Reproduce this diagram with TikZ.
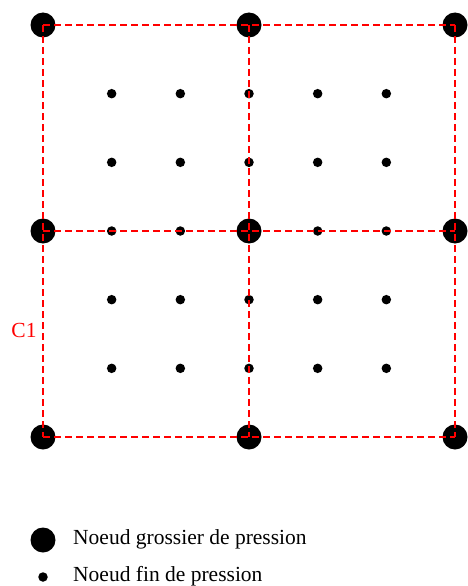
\documentclass[tikz,border=0pt]{standalone}
\usepackage{fontspec}
\setmainfont{Liberation Serif}
\usetikzlibrary{positioning}

\begin{document}
\begin{tikzpicture}[
  x=1pt, y=-1pt,
  coarse/.style={circle, fill=black, inner sep=0pt, minimum size=25pt},
  fine/.style={circle, fill=black, inner sep=0pt, minimum size=9.5pt},
  cellline/.style={color=red, dash pattern=on 7pt off 4pt, line width=1.4pt},
  legend/.style={font=\fontsize{21.5}{24}\selectfont, anchor=base west, inner sep=0pt}
]
\useasboundingbox (0,0) rectangle (467,586);

%% Fine pressure nodes
\foreach \i in {1,...,5}
  \foreach \j in {1,...,5}
    \node[fine] (f-\i-\j) at ({43+206/3*\i},{25+206/3*\j}) {};

%% Coarse pressure nodes
\foreach \i in {0,1,2}
  \foreach \j in {0,1,2}
    \node[coarse] (g-\i-\j) at ({43+206*\i},{25+206*\j}) {};

%% Cell boundaries
\begin{scope}[cellline]
  \draw (g-0-0.center) -- (g-0-2.center);
  \draw (g-1-0.center) -- (g-1-2.center);
  \draw (g-2-0.center) -- (g-2-2.center);
  \draw (g-0-0.center) -- (g-2-0.center);
  \draw (g-0-1.center) -- (g-2-1.center);
  \draw (g-0-2.center) -- (g-2-2.center);
\end{scope}

%% Cell label
\node[legend, anchor=base, text=red] (c1) at (24,337) {C1};

%% Legend
\node[coarse] (keyCoarse) at (43,540) {};
\node[legend] (txtCoarse) at (73,544) {Noeud grossier de pression};
\node[fine] (keyFine) at (43,577) {};
\node[legend] (txtFine) at (73,581) {Noeud fin de pression};
\end{tikzpicture}
\end{document}
